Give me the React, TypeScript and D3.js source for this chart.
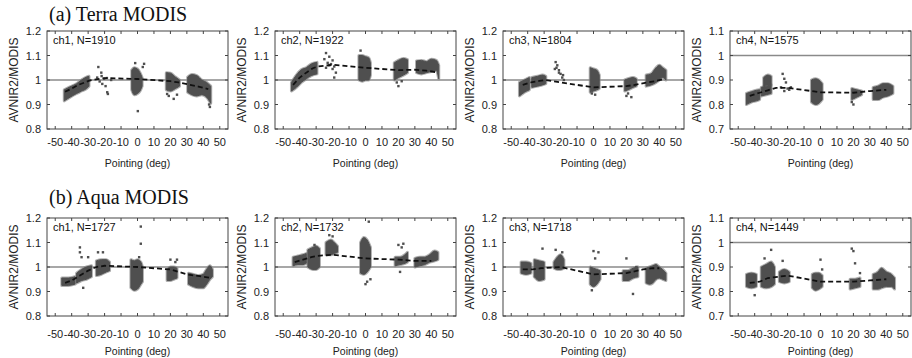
import React from "react";
import * as d3 from "d3";

// axis ticks
const pointingTicks = [-50, -40, -30, -20, -10, 0, 10, 20, 30, 40, 50];
const ratioTicks = [0.8, 0.9, 1, 1.1, 1.2];
const ch4Ticks = [0.7, 0.8, 0.9, 1, 1.1];
const rowTitles = ["(a) Terra MODIS", "(b) Aqua MODIS"];
const channelLabels = [
    "ch1, N=1910", "ch2, N=1922", "ch3, N=1804", "ch4, N=1575",
    "ch1, N=1727", "ch2, N=1732", "ch3, N=1718", "ch4, N=1449",
];

// dense point clouds read as columns [pointing, low, high]
const terraCh1Blobs = [
    [[-44.5, 0.915, 0.96], [-41, 0.93, 0.972], [-37, 0.945, 0.985], [-34, 0.955, 1.0], [-31, 0.965, 1.012], [-29.5, 0.975, 1.015]],
    [[-3.5, 0.96, 1.04], [-2, 0.94, 1.05], [0, 0.945, 1.045], [1.5, 0.955, 1.03], [2.8, 0.975, 1.01]],
    [[17.5, 0.96, 1.03], [20, 0.955, 1.028], [23, 0.965, 1.012], [25.5, 0.975, 1.0]],
    [[30.5, 0.95, 1.012], [33, 0.94, 1.022], [36, 0.935, 1.018], [39, 0.94, 1.0], [42, 0.93, 0.99], [44.5, 0.905, 0.975]],
];
const terraCh1Dots = [[-23.8, 1.053], [-23, 0.994], [-21.4, 0.984], [-19.4, 0.975], [-18.4, 0.95], [-18, 0.943], [-21.8, 1.016], [-20.2, 1.005], [-18.6, 1.008], [-16, 1.0], [-24.5, 1.01], [-22, 1.03], [-1.4, 1.069], [4, 1.066], [3.2, 1.053], [0.2, 0.873], [19, 0.935], [22, 0.923], [18, 0.943], [24, 0.94], [44, 0.89], [43.5, 0.9]];
const terraCh1Mean = [[-44, 0.952], [-40, 0.965], [-36, 0.98], [-32, 0.99], [-29, 0.998], [-20, 1.008], [0, 1.004], [20, 0.995], [25, 0.99], [32, 0.98], [37, 0.973], [43, 0.963]];

const terraCh2Blobs = [
    [[-45, 0.955, 0.99], [-42, 0.97, 1.02], [-39, 0.99, 1.042], [-36, 1.005, 1.05], [-33, 1.018, 1.065], [-29.5, 1.025, 1.072]],
    [[-4, 1.0, 1.1], [-2, 0.995, 1.1], [0, 1.0, 1.095], [2, 1.0, 1.09], [3, 1.02, 1.07]],
    [[17.5, 1.0, 1.07], [20, 1.01, 1.08], [23, 1.02, 1.088], [25.5, 1.03, 1.083]],
    [[31, 1.03, 1.078], [34, 1.025, 1.08], [37, 1.03, 1.075], [40, 1.035, 1.085], [43, 1.04, 1.08], [44.5, 1.005, 1.06]],
];
const terraCh2Dots = [[-24, 1.11], [-22, 1.095], [-25, 1.085], [-20, 1.08], [-23, 1.07], [-21, 1.065], [-19, 1.055], [-24, 1.05], [-20, 1.045], [-18, 1.03], [-19, 1.01], [-22, 1.06], [-3, 1.12], [20, 0.975], [19, 0.99], [22, 0.995]];
const terraCh2Mean = [[-44, 0.98], [-40, 1.01], [-36, 1.03], [-32, 1.048], [-29, 1.055], [-20, 1.062], [0, 1.05], [20, 1.04], [30, 1.042], [37, 1.038], [43, 1.032]];

const terraCh3Blobs = [
    [[-45, 0.935, 0.99], [-42, 0.95, 1.0], [-39, 0.96, 1.01]],
    [[-37.5, 0.97, 1.01], [-34, 0.975, 1.015], [-31, 0.98, 1.02], [-29, 0.985, 1.015]],
    [[-2, 0.95, 1.05], [0, 0.955, 1.045], [2, 0.96, 1.04], [3.5, 0.965, 1.02]],
    [[19, 0.955, 1.0], [21, 0.96, 1.005], [24, 0.97, 1.01], [26, 0.975, 1.005]],
    [[32, 0.975, 1.02], [35, 0.98, 1.025], [38, 0.99, 1.05], [40, 1.0, 1.06], [42, 1.01, 1.05], [44, 1.0, 1.04]],
];
const terraCh3Dots = [[-23, 1.073], [-22, 1.06], [-21, 1.04], [-20, 1.025], [-22.5, 1.05], [-19, 1.01], [-18, 1.0], [-21, 1.03], [-23.5, 1.045], [-18.5, 1.02], [1, 0.94], [-1, 0.945], [20, 0.935], [23, 0.93], [21, 0.945]];
const terraCh3Mean = [[-43, 0.98], [-38, 0.99], [-33, 0.996], [-29, 1.0], [-20, 0.99], [0, 0.97], [20, 0.975], [25, 0.98], [33, 0.99], [38, 0.996], [42, 1.002]];

const terraCh4Blobs = [
    [[-45, 0.8, 0.845], [-42, 0.81, 0.852], [-39, 0.815, 0.858], [-37, 0.82, 0.86]],
    [[-36, 0.835, 0.87], [-33, 0.84, 0.875], [-30, 0.845, 0.88]],
    [[-34.5, 0.875, 0.91], [-32, 0.88, 0.92], [-30, 0.88, 0.915]],
    [[-5.5, 0.81, 0.9], [-3, 0.8, 0.905], [-1, 0.805, 0.9], [1, 0.82, 0.885]],
    [[19, 0.82, 0.865], [22, 0.83, 0.86], [25, 0.84, 0.855]],
    [[32, 0.82, 0.87], [35, 0.82, 0.875], [38, 0.83, 0.885], [41, 0.835, 0.885], [44, 0.845, 0.875]],
];
const terraCh4Dots = [[-23, 0.925], [-22, 0.905], [-21, 0.89], [-24, 0.87], [-19, 0.86], [-20, 0.865], [-22, 0.855], [-18, 0.87], [20, 0.8], [19, 0.81]];
const terraCh4Mean = [[-43, 0.835], [-37, 0.848], [-32, 0.858], [-27, 0.868], [-20, 0.868], [0, 0.85], [20, 0.848], [30, 0.855], [40, 0.86]];

const aquaCh1Blobs = [
    [[-46, 0.925, 0.955], [-42, 0.925, 0.955], [-38, 0.93, 0.96]],
    [[-37, 0.935, 0.975], [-34, 0.945, 0.99], [-31, 0.95, 1.0], [-28, 0.96, 1.005]],
    [[-25, 0.965, 1.025], [-22, 0.97, 1.03], [-19, 0.98, 1.03], [-17, 0.985, 1.02]],
    [[-4, 0.915, 1.03], [-2, 0.905, 1.025], [0, 0.91, 1.03], [2, 0.93, 1.02], [3, 0.94, 1.0]],
    [[18, 0.945, 0.99], [20, 0.945, 1.0], [22, 0.95, 1.0], [24, 0.955, 0.995]],
    [[31, 0.93, 0.975], [34, 0.92, 0.97], [37, 0.915, 0.965], [40, 0.915, 0.97], [42, 0.93, 0.99], [44, 0.95, 1.005], [45.5, 0.96, 0.99]],
];
const aquaCh1Dots = [[-35, 1.08], [-35, 1.06], [-34, 1.04], [-30, 1.04], [-33, 0.915], [-24, 1.06], [-21, 1.06], [2, 1.165], [2, 1.095], [1, 1.04], [20, 1.03], [24, 1.03], [23, 1.02]];
const aquaCh1Mean = [[-44, 0.935], [-40, 0.945], [-35, 0.965], [-30, 0.985], [-25, 1.0], [-20, 1.005], [0, 1.0], [20, 0.99], [25, 0.98], [30, 0.97], [35, 0.965], [40, 0.96], [45, 0.955]];

const aquaCh2Blobs = [
    [[-44, 1.005, 1.04], [-41, 1.01, 1.045], [-38, 1.01, 1.05], [-36, 1.015, 1.055]],
    [[-35, 1.0, 1.07], [-32, 0.99, 1.08], [-30, 0.99, 1.085], [-28, 1.0, 1.075]],
    [[-24, 1.05, 1.1], [-21, 1.05, 1.11], [-19, 1.055, 1.1], [-17, 1.06, 1.085]],
    [[-3, 0.975, 1.1], [-1, 0.97, 1.12], [1, 0.98, 1.11], [3, 1.0, 1.08]],
    [[18, 1.005, 1.04], [21, 1.01, 1.04], [24, 1.015, 1.05], [25.5, 1.02, 1.06]],
    [[30, 1.0, 1.035], [33, 1.005, 1.04], [36, 1.01, 1.04], [39, 1.02, 1.05], [42, 1.025, 1.065], [44, 1.03, 1.06]],
];
const aquaCh2Dots = [[-22, 1.13], [-20, 1.125], [-31, 1.09], [2, 1.185], [0, 0.93], [1, 0.94], [3, 0.95], [20, 1.09], [23, 1.095], [22, 1.08], [21, 0.98]];
const aquaCh2Mean = [[-43, 1.02], [-38, 1.03], [-33, 1.04], [-30, 1.045], [-20, 1.05], [0, 1.035], [20, 1.03], [30, 1.025], [40, 1.025]];

const aquaCh3Blobs = [
    [[-44, 0.975, 1.02], [-41, 0.97, 1.02], [-38, 0.975, 1.015]],
    [[-36, 0.96, 1.03], [-33, 0.945, 1.025], [-30, 0.95, 1.02]],
    [[-24, 0.995, 1.02], [-22, 0.99, 1.04], [-20, 0.99, 1.05], [-18, 0.995, 1.03]],
    [[-2, 0.93, 1.0], [0, 0.92, 0.995], [2, 0.93, 0.99], [4, 0.95, 0.985]],
    [[18, 0.945, 0.985], [21, 0.945, 0.985], [24, 0.955, 0.995], [27, 0.96, 1.0]],
    [[32, 0.935, 0.995], [34, 0.93, 1.0], [36, 0.935, 1.005], [38, 0.95, 1.01], [40, 0.955, 1.0], [42, 0.95, 0.99], [44, 0.945, 0.975]],
];
const aquaCh3Dots = [[-31, 1.075], [-23, 1.07], [-19, 1.06], [0, 1.065], [3, 1.06], [1, 1.035], [-1, 0.905], [20, 1.035], [24, 0.89], [26, 1.0]];
const aquaCh3Mean = [[-43, 0.99], [-37, 0.99], [-32, 0.995], [-20, 1.0], [0, 0.97], [20, 0.975], [30, 0.99], [36, 0.995], [40, 0.995]];

const aquaCh4Blobs = [
    [[-45, 0.82, 0.87], [-42, 0.815, 0.875], [-39, 0.82, 0.87]],
    [[-36, 0.82, 0.9], [-33, 0.815, 0.91], [-30, 0.82, 0.92], [-28, 0.83, 0.9]],
    [[-25, 0.84, 0.88], [-22, 0.835, 0.89], [-19, 0.84, 0.88]],
    [[-5, 0.815, 0.87], [-3, 0.805, 0.875], [-1, 0.81, 0.875], [1, 0.82, 0.865]],
    [[18, 0.81, 0.85], [21, 0.815, 0.85], [24, 0.82, 0.855]],
    [[32, 0.81, 0.87], [35, 0.81, 0.88], [37, 0.815, 0.895], [40, 0.82, 0.88], [43, 0.82, 0.87], [45, 0.81, 0.855]],
];
const aquaCh4Dots = [[-40, 0.785], [-30, 0.97], [-34, 0.935], [-23, 0.925], [0, 0.93], [1, 0.89], [19, 0.975], [20, 0.965], [21, 0.915], [24, 0.875]];
const aquaCh4Mean = [[-43, 0.835], [-37, 0.84], [-32, 0.855], [-20, 0.865], [0, 0.84], [20, 0.84], [30, 0.845], [40, 0.85]];

const panels = [
    {blobs: terraCh1Blobs, dots: terraCh1Dots, mean: terraCh1Mean, ticks: ratioTicks},
    {blobs: terraCh2Blobs, dots: terraCh2Dots, mean: terraCh2Mean, ticks: ratioTicks},
    {blobs: terraCh3Blobs, dots: terraCh3Dots, mean: terraCh3Mean, ticks: ratioTicks},
    {blobs: terraCh4Blobs, dots: terraCh4Dots, mean: terraCh4Mean, ticks: ch4Ticks},
    {blobs: aquaCh1Blobs, dots: aquaCh1Dots, mean: aquaCh1Mean, ticks: ratioTicks},
    {blobs: aquaCh2Blobs, dots: aquaCh2Dots, mean: aquaCh2Mean, ticks: ratioTicks},
    {blobs: aquaCh3Blobs, dots: aquaCh3Dots, mean: aquaCh3Mean, ticks: ratioTicks},
    {blobs: aquaCh4Blobs, dots: aquaCh4Dots, mean: aquaCh4Mean, ticks: ch4Ticks},
];

// layout
const panelLefts = [47, 275, 503, 730];
const rowTops = [31, 218];
const tickGap = [17, 22];
const titleGap = [38, 39];
const W = 181;
const H = 98;
const sans = "'Liberation Sans', Arial, sans-serif";
const ink = "#4f4f4f";

const fmt = (v: number) => (v === 1 ? "1" : v.toFixed(1));

interface PanelProps {
    left: number
    top: number
    row: number
    label: string
    p: typeof panels[0]
}

const Panel: React.FC<PanelProps> = ({left, top, row, label, p}) => {
    const x = d3.scaleLinear().domain([-55, 55]).range([0, W]);
    const y = d3.scaleLinear().domain([p.ticks[0], p.ticks[p.ticks.length - 1]]).range([H, 0]);
    const area = d3.area<number[]>()
        .x(d => x(d[0]))
        .y0(d => y(d[1]))
        .y1(d => y(d[2]))
        .curve(d3.curveMonotoneX);
    const line = d3.line<number[]>().x(d => x(d[0])).y(d => y(d[1]));

    return <g transform={`translate(${left},${top})`}>
        <line x1={0} x2={W} y1={y(1)} y2={y(1)} stroke="#8a8a8a" strokeWidth={1.3}/>
        {/* soft fringe under each cloud, then the dense core */}
        {p.blobs.map((b, i) => <path key={"f" + i} d={area(b) || ""} fill="#8c8c8c" stroke="#8c8c8c"
                                     strokeWidth={3} strokeLinejoin="round" opacity={0.7}/>)}
        {p.blobs.map((b, i) => <path key={i} d={area(b) || ""} fill={ink} stroke={ink} strokeWidth={1}
                                     strokeLinejoin="round"/>)}
        {p.dots.map((d, i) => <rect key={i} x={x(d[0]) - 1.2} y={y(d[1]) - 1.2} width={2.4} height={2.4} fill={ink}/>)}
        <path d={line(p.mean) || ""} fill="none" stroke="#111" strokeWidth={1.8} strokeDasharray="5 3"/>
        <rect x={0} y={0} width={W} height={H} fill="none" stroke="#444" strokeWidth={1}/>
        {pointingTicks.map(t => <g key={t}>
            <line x1={x(t)} x2={x(t)} y1={H} y2={H - 3} stroke="#444"/>
            <line x1={x(t)} x2={x(t)} y1={0} y2={3} stroke="#444"/>
            <text x={x(t)} y={H + tickGap[row]} textAnchor="middle" fontSize={11} fontFamily={sans}
                  fill="#222">{String(t)}</text>
        </g>)}
        {p.ticks.map(t => <g key={t}>
            <line x1={0} x2={3} y1={y(t)} y2={y(t)} stroke="#444"/>
            <line x1={W} x2={W - 3} y1={y(t)} y2={y(t)} stroke="#444"/>
            <text x={-6} y={y(t) + 4} textAnchor="end" fontSize={11} fontFamily={sans} fill="#222">{fmt(t)}</text>
        </g>)}
        <text x={6} y={13} fontSize={11} fontFamily={sans} fill="#111">{label}</text>
        <text x={W / 2} y={H + titleGap[row]} textAnchor="middle" fontSize={10.5} fontFamily={sans}
              fill="#222">Pointing (deg)</text>
        <text transform={`translate(-32,${H / 2}) rotate(-90)`} textAnchor="middle" dominantBaseline="middle"
              fontSize={12} fontFamily={sans} fill="#222">AVNIR2/MODIS</text>
    </g>;
};

const App: React.FC = () => {
    return <svg width={912} height={358} style={{position: "absolute", left: 0, top: 0, background: "#fff"}}>
        {rowTitles.map((t, r) => <text key={t} x={49} y={r === 0 ? 21 : 204} fontSize={20}
                                       fontFamily="'Liberation Serif', serif" fill="#111">{t}</text>)}
        {panels.map((p, i) => {
            const row = Math.floor(i / 4);
            return <Panel key={i} left={panelLefts[i % 4]} top={rowTops[row]} row={row}
                          label={channelLabels[i]} p={p}/>;
        })}
    </svg>;
};

export default App;
